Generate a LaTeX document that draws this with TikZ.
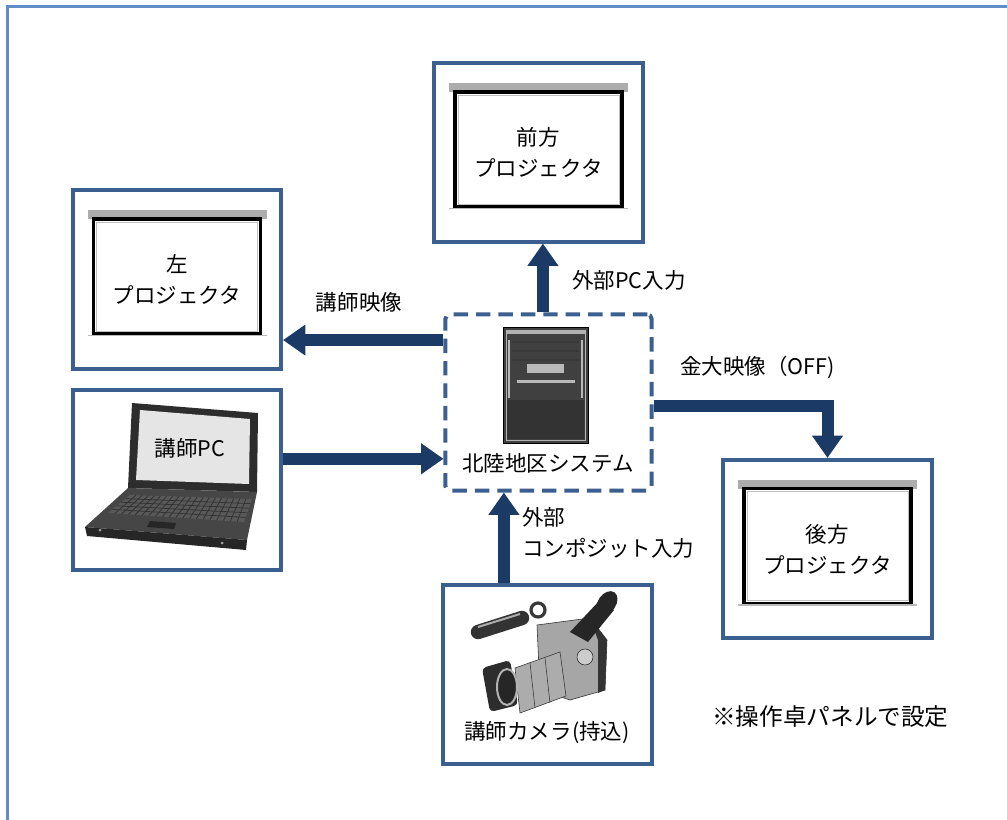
\documentclass[tikz,border=0pt]{standalone}
\usepackage{fontspec}
\setmainfont{Noto Sans CJK JP}
\usetikzlibrary{arrows.meta}
\definecolor{boxblue}{RGB}{59,95,142}
\definecolor{flowblue}{RGB}{27,58,102}
\definecolor{framebl}{RGB}{96,140,200}

% screen of a projector, drawn round the centre of a box node
\newcommand{\projscreen}[1]{%
  \begin{scope}[shift={(#1.center)}]
    \fill[gray!65] (-89.5,-69.5) rectangle (89.5,-60.5);
    \draw[line width=0.08cm] (-83.5,-60.5) rectangle (83.5,54.5);
    \draw[gray!50] (-80.5,-57.5) rectangle (80.5,51.5);
    \draw[gray!55, line width=0.04cm] (-89.5,56) -- (89.5,56);
  \end{scope}}

\begin{document}
\begin{tikzpicture}[x=0.025cm, y=-0.025cm,
  font=\fontsize{15.3}{22}\selectfont,
  devbox/.style={draw=boxblue, line width=0.1cm, fill=white, minimum width=5.2cm, minimum height=4.45cm, inner sep=0pt, align=center},
  sysbox/.style={draw=boxblue, line width=0.1cm, dash pattern=on 0.36cm off 0.2cm, rounded corners=3pt, fill=white, minimum width=5.15cm, minimum height=4.4cm, inner sep=0pt},
  flow/.style={flowblue, line width=0.3cm, -{Triangle[length=0.56cm, width=0.74cm]}},
  lbl/.style={inner sep=0pt, align=left}]
\useasboundingbox (0,0) rectangle (1007,820);
\draw[framebl, line width=0.06cm] (7.5,820) -- (7.5,6.5) -- (1007,6.5);

% boxes
\node[devbox] (front) at (538.5,152.5) {前方\\プロジェクタ};
\node[devbox] (leftproj) at (177,279.5) {左\\プロジェクタ};
\node[devbox] (rear) at (827.5,549) {後方\\プロジェクタ};
\node[devbox, minimum height=4.5cm] (pc) at (177,480) {};
\node[devbox] (cam) at (547.5,674.5) {};
\node[sysbox] (sys) at (548.5,402.5) {};
\projscreen{front}
\projscreen{leftproj}
\projscreen{rear}

% server
\filldraw[fill=black!75, draw=black] (503,327) rectangle (588,443);
\fill[black!80] (507,400) rectangle (584,439);
\draw[gray!60] (506,330) rectangle (585,440);
\fill[gray!60] (506,331) rectangle (585,334);
\foreach \y in {342,351,360}
  \draw[gray!45!black, line width=0.04cm] (512,\y) -- (579,\y);
\fill[gray!55] (527,364) rectangle (564,373);
\fill[gray!55] (517,380) rectangle (575,383);
\draw[gray!55, line width=0.06cm] (509,340) -- (509,398);
\draw[gray!55, line width=0.06cm] (582,340) -- (582,398);
\node (systxt) at (548,463) {北陸地区システム};

% laptop
\fill[gray!35!black] (132,403) -- (258,413) -- (257,492) -- (128,488) -- cycle;
\fill[gray!20] (140,410) -- (250,419) -- (249,484) -- (136,480) -- cycle;
\fill[gray!55!black] (128,488) -- (257,492) -- (247,540) -- (85,527) -- cycle;
\fill[gray!30!black] (85,527) -- (247,540) -- (246,550) -- (87,536) -- cycle;
\fill[gray!70!black] (130,495) -- (252,499) -- (244,522) -- (108,513) -- cycle;
\foreach \t in {0.2,0.4,0.6,0.8}
  \draw[gray!40!black, line width=0.02cm] ({130-22*\t},{495+18*\t}) -- ({252-8*\t},{499+23*\t});
\foreach \s in {0.05,0.1,...,0.96}
  \draw[gray!40!black, line width=0.02cm] ({130+122*\s},{495+4*\s}) -- ({108+136*\s},{513+9*\s});
\fill[gray!30!black] (150,521) -- (176,523) -- (174,529) -- (147,527) -- cycle;
\fill[gray!70] (100,530) circle (1.5);
\fill[gray!70] (222,543) circle (1.5);
\node (pctxt) at (190,448) {講師PC};

% camera
\draw[gray!40!black, line width=0.36cm, line cap=round] (478,632) -- (522,618);
\draw[gray!65, line width=0.05cm] (478,627) -- (520,614);
\draw[gray!45!black, line width=0.08cm] (538,610) circle (7);
\filldraw[fill=gray!70, draw=gray!35!black] (537,625) -- (590,618) -- (607,640) -- (605,690) -- (570,700) -- (540,690) -- cycle;
\fill[gray!40!black] (590,618) -- (607,640) -- (605,690) -- (598,693) -- (598,640) -- cycle;
\filldraw[fill=gray!40, draw=gray!30!black] (585,657) circle (8);
\fill[gray!30!black] (570,632) -- (600,600) -- (614,610) -- (588,642) -- cycle;
\fill[black!85, rotate around={-35:(607,603)}] (607,603) ellipse (9 and 13);
\filldraw[fill=gray!65, draw=gray!40!black] (515,668) -- (560,652) -- (566,696) -- (520,713) -- cycle;
\draw[gray!40!black] (530,663) -- (535,708);
\draw[gray!40!black] (545,658) -- (550,703);
\fill[gray!35!black, rounded corners=3pt] (482,668) -- (510,660) -- (518,705) -- (490,712) -- cycle;
\filldraw[fill=black!85, draw=gray!60, line width=0.05cm] (507,687) ellipse (10 and 18);
\node (camtxt) at (547,733) {講師カメラ(持込)};

% connectors
\coordinate (upA) at ([xshift=-0.14cm]sys.north);
\draw[flow] (upA) -- (upA |- front.south);
\coordinate (outL) at ([yshift=1.56cm]sys.west);
\draw[flow] (outL) -- (outL -| leftproj.east);
\coordinate (pcR) at ([yshift=0.53cm]pc.east);
\draw[flow] (pcR) -- (pcR -| sys.west);
\coordinate (camT) at ([xshift=-1.09cm]cam.north);
\draw[flow] (camT) -- (camT |- sys.south);
\coordinate (outR) at ([yshift=-0.09cm]sys.east);
\draw[flow, line join=miter] (outR) -| (rear.north);

% labels
\node[lbl, anchor=west] (lblfront) at (572,280) {外部PC入力};
\node[lbl] (lblleft) at (359,302) {講師映像};
\node[lbl, anchor=west] (lblrear) at (680,367) {金大映像（OFF)};
\node[lbl, anchor=west] (lblcam) at (522,533) {外部\\コンポジット入力};
\node[lbl, anchor=west, font=\fontsize{16.8}{22}\selectfont] (note) at (712,717) {※操作卓パネルで設定};
\end{tikzpicture}
\end{document}
